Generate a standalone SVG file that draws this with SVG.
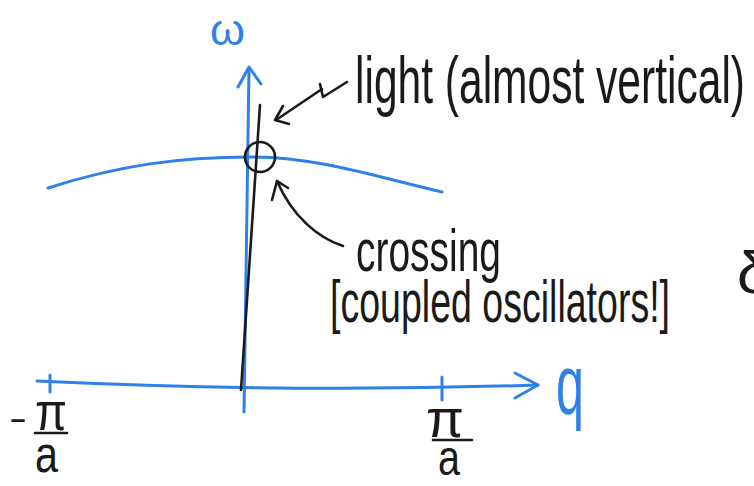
<svg xmlns="http://www.w3.org/2000/svg" width="754" height="486" viewBox="0 0 754 486">
  <style>
    .blue { stroke: #2f80e8; fill: none; stroke-width: 3; stroke-linecap: round; stroke-linejoin: round; }
    .ink { stroke: #1a1a1a; fill: none; stroke-width: 2.6; stroke-linecap: round; stroke-linejoin: round; }
    .t { font-family: "Liberation Sans Narrow", "Liberation Sans", sans-serif; fill: #1a1a1a; }
    .tb { font-family: "Liberation Sans Narrow", "Liberation Sans", sans-serif; fill: #2f80e8; }
  </style>
  <rect width="754" height="486" fill="#ffffff"/>

  <g id="axes">
    <path class="blue" d="M244,412 L249,68"/>
    <path class="blue" d="M238,87 L249,67 L261,84"/>
    <path class="blue" d="M37,381 Q290,393 538,385"/>
    <path class="blue" d="M515,373 L538,385 L515,398"/>
    <path class="blue" d="M50,375 L50,392"/>
    <path class="blue" d="M442,377 L442,400"/>
  </g>

  <g id="dispersion-curve">
    <path class="blue" d="M48,188 C120,165 180,157 250,157 C320,157 380,178 442,192"/>
  </g>

  <g id="light-line">
    <path class="ink" d="M260,105 L241,390" stroke-width="3"/>
  </g>

  <g id="crossing-circle">
    <circle class="ink" cx="260" cy="157" r="15"/>
  </g>

  <g id="connectors">
    <path class="ink" d="M276,120 L322,89"/>
    <path class="ink" d="M283,106 L275,120 L289,124"/>
    <path class="ink" d="M320,84 L323,97 L347,82"/>
    <path class="ink" d="M343,246 C318,238 292,216 277,181"/>
    <path class="ink" d="M272,200 L277,181 L288,188"/>
  </g>

  <g id="labels">
    <text class="tb" x="210" y="45" font-size="44" textLength="35" lengthAdjust="spacingAndGlyphs">ω</text>
    <text class="t" x="355" y="103" font-size="66" textLength="390" lengthAdjust="spacingAndGlyphs">light (almost vertical)</text>
    <text class="t" x="356" y="271" font-size="60" textLength="145" lengthAdjust="spacingAndGlyphs">crossing</text>
    <text class="t" x="330" y="322" font-size="60" textLength="340" lengthAdjust="spacingAndGlyphs">[coupled oscillators!]</text>
    <text class="tb" transform="translate(556,414) scale(1,1.35)" x="0" y="0" font-size="62" textLength="28" lengthAdjust="spacingAndGlyphs">q</text>
  </g>

  <g id="tick-left">
    <text class="t" x="10" y="434" font-size="40" textLength="16" lengthAdjust="spacingAndGlyphs">−</text>
    <text class="t" x="35" y="430" font-size="54" textLength="32" lengthAdjust="spacingAndGlyphs">π</text>
    <path class="ink" d="M35,433 L67,433"/>
    <text class="t" x="35" y="472" font-size="52" textLength="23" lengthAdjust="spacingAndGlyphs">a</text>
  </g>

  <g id="tick-right">
    <text class="t" x="426" y="437" font-size="54" textLength="38" lengthAdjust="spacingAndGlyphs">π</text>
    <path class="ink" d="M433,440 L472,440"/>
    <text class="t" x="438" y="475" font-size="50" textLength="22" lengthAdjust="spacingAndGlyphs">a</text>
  </g>

  <g id="edge-mark">
    <text class="t" x="737" y="293" font-size="60">δ</text>
  </g>
</svg>
